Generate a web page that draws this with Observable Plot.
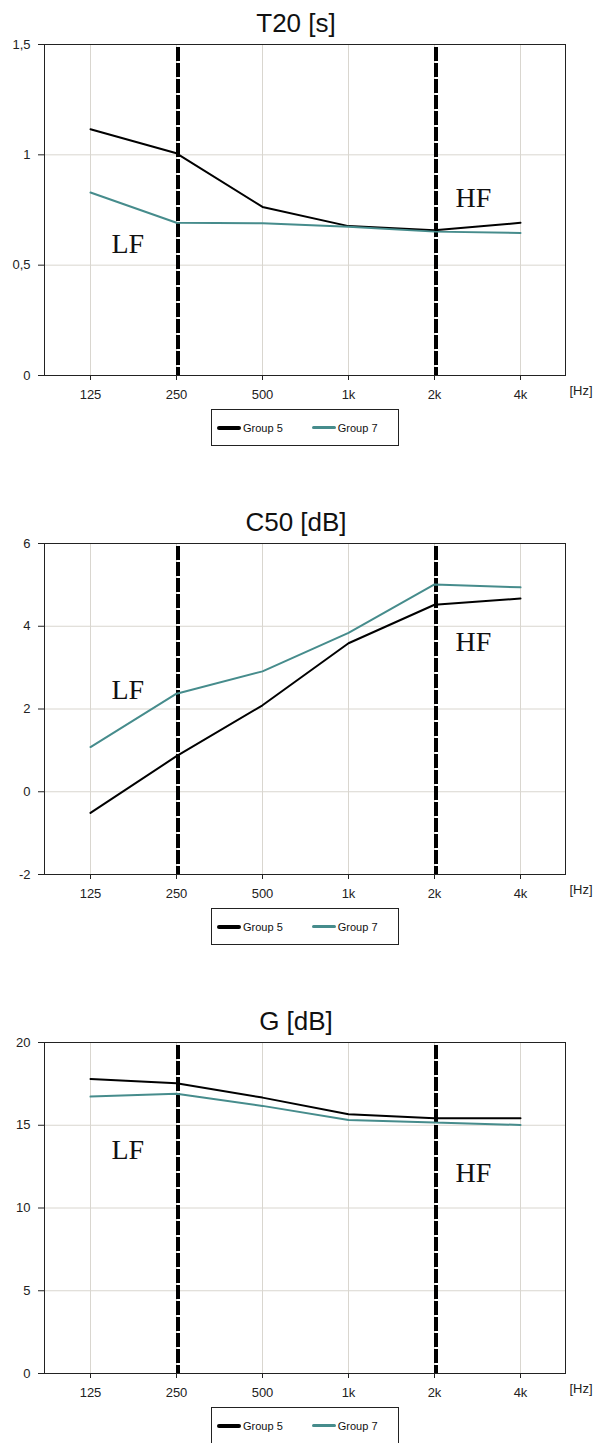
<!DOCTYPE html>
<html><head><meta charset="utf-8">
<script src="https://cdn.jsdelivr.net/npm/d3@7"></script>
<script src="https://cdn.jsdelivr.net/npm/@observablehq/plot@0.6"></script>
<style>
html,body{margin:0;padding:0;background:#fff;overflow:hidden}
.panel{position:relative;width:597px;height:499px}
.title{height:40px;box-sizing:border-box;padding-top:10px;font:26px/26px "Liberation Sans",Arial,sans-serif;color:#111;text-align:center;width:592px;white-space:nowrap}
.legend{margin:4px 0 0 211px;width:186px;height:35px;border:1px solid #222;display:flex;align-items:center;font:11px "Liberation Sans",Arial,sans-serif;color:#111}
.sw{display:inline-block;width:24px;height:4px;border-radius:2px;margin:0 2px 0 5px}
.sw2{margin-left:29px;height:3.5px}
</style></head><body><div id="root"></div>
<script>
const freqs = ["125", "250", "500", "1k", "2k", "4k"];
const seriesNames = ["Group 5", "Group 7"];
const seriesColors = ["#000000", "#468c8c"];
const bandEdges = ["250", "2k"];
const bandLabels = ["LF", "HF"];

const titles = ["T20 [s]", "C50 [dB]", "G [dB]"];

const t20Group5 = [1.116, 1.007, 0.764, 0.677, 0.658, 0.692];
const t20Group7 = [0.829, 0.692, 0.690, 0.674, 0.652, 0.646];
const t20Ticks = [0, 0.5, 1, 1.5];
const t20Domain = [0, 1.5];
const t20LabelY = [0.596, 0.805];

const c50Group5 = [-0.51, 0.86, 2.09, 3.59, 4.52, 4.67];
const c50Group7 = [1.08, 2.37, 2.91, 3.84, 5.01, 4.94];
const c50Ticks = [-2, 0, 2, 4, 6];
const c50Domain = [-2, 6];
const c50LabelY = [2.47, 3.61];

const gGroup5 = [17.79, 17.54, 16.67, 15.67, 15.43, 15.43];
const gGroup7 = [16.73, 16.90, 16.17, 15.32, 15.16, 15.02];
const gTicks = [0, 5, 10, 15, 20];
const gDomain = [0, 20];
const gLabelY = [13.53, 12.14];

const panels = [
  {title: titles[0], s: [t20Group5, t20Group7], ticks: t20Ticks, domain: t20Domain, labelY: t20LabelY},
  {title: titles[1], s: [c50Group5, c50Group7], ticks: c50Ticks, domain: c50Domain, labelY: c50LabelY},
  {title: titles[2], s: [gGroup5, gGroup7], ticks: gTicks, domain: gDomain, labelY: gLabelY}
];

const root = document.getElementById("root");
const fmt = d => String(d).replace(".", ",");

panels.forEach((p, pi) => {
  const panel = document.createElement("div");
  panel.className = "panel";
  if (pi === panels.length - 1) panel.style.height = "auto";
  const t = document.createElement("div");
  t.className = "title";
  t.textContent = p.title;
  panel.appendChild(t);

  const lineMarks = p.s.map((vals, si) =>
    Plot.line(freqs.map((f, i) => ({freq: f, value: vals[i]})),
      {x: "freq", y: "value", stroke: seriesColors[si], strokeWidth: 2, strokeLinejoin: "miter"}));

  const labels = bandLabels.map((lab, i) => ({x: bandEdges[i], y: p.labelY[i], text: lab}));
  labels[0].x = freqs[0];

  const chart = Plot.plot({
    width: 597,
    height: 365,
    marginTop: 4,
    marginBottom: 30,
    marginLeft: 44,
    marginRight: 32,
    style: {fontFamily: "'Liberation Sans', Arial, sans-serif", fontSize: "13px", color: "#222", background: "white", overflow: "visible"},
    x: {type: "point", domain: freqs, padding: 0.5, tickSize: 5, tickPadding: 9, label: null},
    y: {domain: p.domain, ticks: p.ticks, tickFormat: fmt, tickSize: 6, tickPadding: 8, label: null},
    marks: [
      Plot.ruleX(freqs, {stroke: "#d9d6cf", strokeWidth: 1}),
      Plot.ruleY(p.ticks, {stroke: "#d9d6cf", strokeWidth: 1}),
      Plot.frame({stroke: "#222", strokeWidth: 1}),
      Plot.ruleX(bandEdges, {stroke: "#000", strokeWidth: 4, strokeDasharray: "14,2", insetTop: 3, dx: 1.5}),
      ...lineMarks,
      Plot.text(labels, {x: "x", y: "y", text: "text", dx: 21, textAnchor: "start", fontFamily: "'Liberation Serif', 'Times New Roman', serif", fontSize: 28, fill: "#111"}),
      Plot.text(["[Hz]"], {frameAnchor: "bottom-right", text: d => d, dx: 4, dy: 19, textAnchor: "start", fontSize: 13, fill: "#222"})
    ]
  });
  panel.appendChild(chart);

  const leg = document.createElement("div");
  leg.className = "legend";
  seriesNames.forEach((n, si) => {
    const sw = document.createElement("span");
    sw.className = "sw" + (si ? " sw2" : "");
    sw.style.background = seriesColors[si];
    leg.appendChild(sw);
    const tx = document.createElement("span");
    tx.textContent = n;
    leg.appendChild(tx);
  });
  panel.appendChild(leg);
  root.appendChild(panel);
});
</script>
</body></html>
